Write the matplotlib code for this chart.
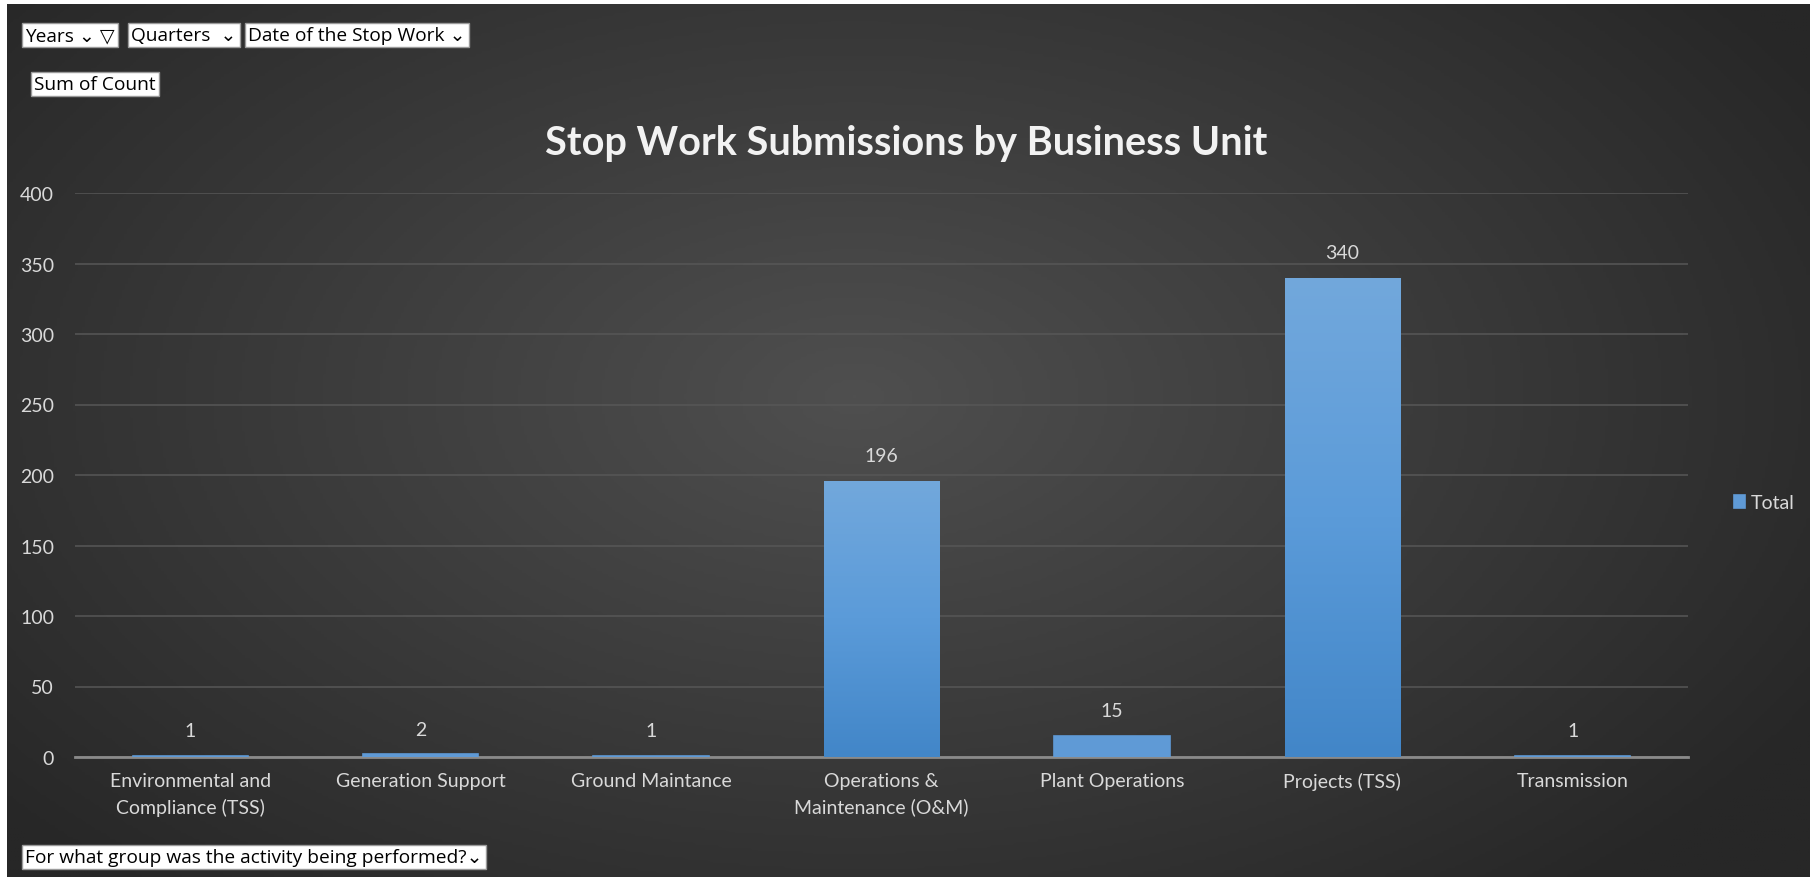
import numpy as np
import matplotlib
matplotlib.use("Agg")
import matplotlib.pyplot as plt
from matplotlib.colors import LinearSegmentedColormap

categories = ["Environmental and\nCompliance (TSS)", "Generation Support", "Ground Maintance",
              "Operations &\nMaintenance (O&M)", "Plant Operations", "Projects (TSS)", "Transmission"]
values = [1, 2, 1, 196, 15, 340, 1]
y_ticks = [0, 50, 100, 150, 200, 250, 300, 350, 400]
series_name = "Total"
title = "Stop Work Submissions by Business Unit"

W, H = 1813, 878
fig = plt.figure(figsize=(W / 100, H / 100), dpi=100)
fig.patch.set_facecolor("white")

# background radial gradient
bg = fig.add_axes([0.004, 0.0, 0.994, 0.994])
bg.set_axis_off()
yy, xx = np.mgrid[0:1:300j, 0:1:600j]
r = np.sqrt(((xx - 0.47) / 0.62) ** 2 + ((yy - 0.55) / 0.75) ** 2)
r = np.clip(r, 0, 1)
bg_cmap = LinearSegmentedColormap.from_list("bg", ["#4f4f4f", "#3b3b3b", "#272727"])
bg.imshow(r, cmap=bg_cmap, aspect="auto", extent=[0, 1, 0, 1], origin="lower", vmin=0, vmax=1)
bg.set_xlim(0, 1)
bg.set_ylim(0, 1)

ax = fig.add_axes([75 / W, 1 - 758 / H, (1688 - 75) / W, (758 - 194) / H])
ax.patch.set_alpha(0)
x = np.arange(len(categories))
bars = ax.bar(x, values, width=0.5, color="#5b9bd5", zorder=3, label=series_name)

bar_cmap = LinearSegmentedColormap.from_list("bar", ["#4286c8", "#5b9bd9", "#72a8dc"])
grad = np.linspace(0, 1, 256).reshape(-1, 1)
for b in bars:
    bx, by = b.get_x(), b.get_y()
    bw, bh = b.get_width(), b.get_height()
    if bh < 20:
        b.set_facecolor("#5f9ad6")
        b.set_edgecolor("#5f9ad6")
        b.set_linewidth(1.2)
        continue
    im = ax.imshow(grad, cmap=bar_cmap, aspect="auto", origin="lower",
                   extent=[bx, bx + bw, by, by + bh], zorder=4)
    im.set_clip_path(b)

ax.set_xlim(-0.5, len(categories) - 0.5)
ax.set_ylim(0, 400)
ax.set_yticks(y_ticks)
ax.set_xticks(x)
ax.set_xticklabels(categories, linespacing=1.55)
ax.grid(axis="y", color="#575757", linewidth=1.1, zorder=0)
for s in ["top", "right", "left"]:
    ax.spines[s].set_visible(False)
ax.spines["bottom"].set_color("#8a8a8a")
ax.spines["bottom"].set_linewidth(2)
ax.spines["bottom"].set_zorder(2)
ax.tick_params(axis="both", length=0, colors="#d9d9d9", labelsize=14)
ax.tick_params(axis="x", pad=11)
ax.tick_params(axis="y", pad=15)
for lab in ax.get_xticklabels() + ax.get_yticklabels():
    lab.set_fontfamily("Lato")
    lab.set_color("#d9d9d9")

for b, v in zip(bars, values):
    ax.annotate(str(v), (b.get_x() + b.get_width() / 2, b.get_height()),
                xytext=(0, 12), textcoords="offset points", ha="center", va="bottom",
                fontsize=14, color="#d9d9d9", family="Lato")

fig.text(0.5, 1 - 144 / H, title, ha="center", va="center", fontsize=28.5,
         fontweight="bold", color="#f2f2f2", family="Lato")

leg = ax.legend(loc="center left", bbox_to_anchor=(1716 / W, 1 - 504 / H),
                bbox_transform=fig.transFigure, frameon=False, handlelength=0.6,
                handleheight=0.6, handletextpad=0.3, prop={"family": "Lato", "size": 14})
for t in leg.get_texts():
    t.set_color("#d9d9d9")

box = dict(boxstyle="square,pad=0.18", facecolor="white", edgecolor="#9a9a9a", linewidth=1)
fam = ["Open Sans", "DejaVu Sans"]
fs = 13.8
fig.text(25 / W, 1 - 36 / H, "Years \u2304 \u25BD", ha="left", va="center", fontsize=fs,
         color="black", family=fam, bbox=box)
fig.text(131 / W, 1 - 36 / H, "Quarters  \u2304", ha="left", va="center", fontsize=fs,
         color="black", family=fam, bbox=box)
fig.text(248 / W, 1 - 36 / H, "Date of the Stop Work \u2304", ha="left", va="center", fontsize=fs,
         color="black", family=fam, bbox=box)
fig.text(34 / W, 1 - 85 / H, "Sum of Count", ha="left", va="center", fontsize=fs,
         color="black", family=fam, bbox=box)
fig.text(25 / W, 1 - 858 / H, "For what group was the activity being performed?\u2304", ha="left",
         va="center", fontsize=fs, color="black", family=fam, bbox=box)

fig.savefig("out.png", dpi=100, facecolor=fig.get_facecolor())
